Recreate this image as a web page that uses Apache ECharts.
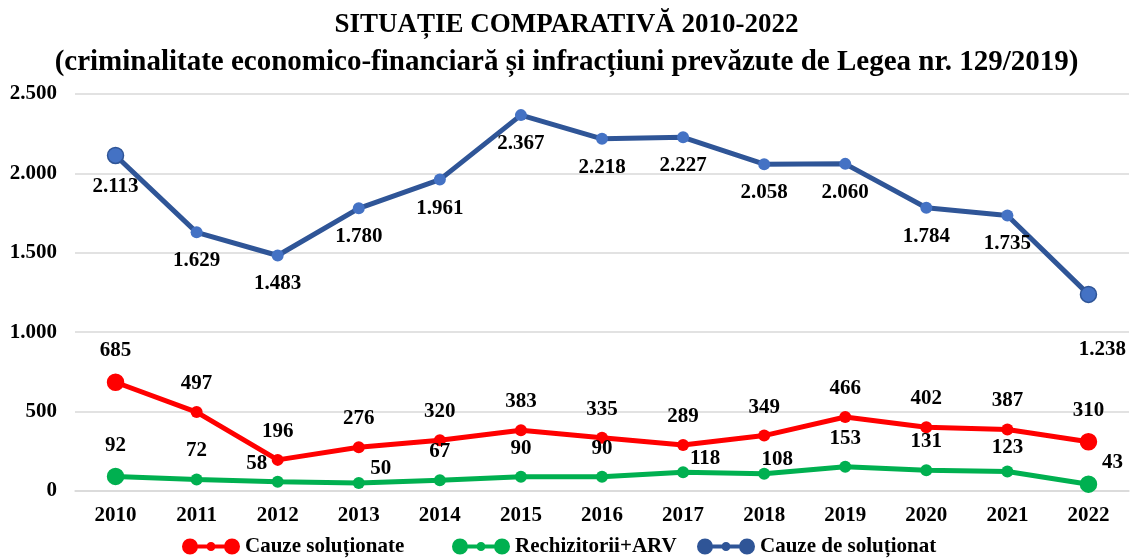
<!DOCTYPE html>
<html>
<head>
<meta charset="utf-8">
<script src="https://cdn.jsdelivr.net/npm/echarts@6/dist/echarts.min.js"></script>
<style>
  html, body { margin: 0; padding: 0; background: #fff; }
  #chart { width: 1133px; height: 558px; }
</style>
</head>
<body>
<div id="chart"></div>
<script>
// date
var years = ['2010', '2011', '2012', '2013', '2014', '2015', '2016', '2017', '2018', '2019', '2020', '2021', '2022'];
var cauzeSolutionate = [685, 497, 196, 276, 320, 383, 335, 289, 349, 466, 402, 387, 310];
var rechizitorii = [92, 72, 58, 50, 67, 90, 90, 118, 108, 153, 131, 123, 43];
var cauzeDeSolutionat = [2113, 1629, 1483, 1780, 1961, 2367, 2218, 2227, 2058, 2060, 1784, 1735, 1238];
var yTicks = [0, 500, 1000, 1500, 2000, 2500];

var FONT = '"Liberation Serif", "DejaVu Serif", serif';

function fmt(v) {
  return String(v).replace(/\B(?=(\d{3})+(?!\d))/g, '.');
}

// icon legenda: linie cu cercuri la capete si unul mic la mijloc
var legendIcon = 'path://M0,8a8,8 0 1,1 16,0a8,8 0 1,1 -16,0Z' +
  'M42,8a8,8 0 1,1 16,0a8,8 0 1,1 -16,0Z' +
  'M24.5,8a4.5,4.5 0 1,1 9,0a4.5,4.5 0 1,1 -9,0Z' +
  'M8,6H50V10H8Z';

// deplasari individuale ale etichetelor (ca in original)
var greenOffsets = { 2: [-21, 10], 3: [22, 14], 7: [22, 15], 8: [13, 14], 11: [0, 5], 12: [24, 10] };
var blueOffsets = { 12: [14, 24] };

function buildData(values, color, borderColor, offsets) {
  return values.map(function (v, i) {
    var end = i === 0 || i === values.length - 1;
    var item = {
      value: v,
      symbolSize: end ? 16 : 12,
      itemStyle: { color: color, borderColor: end ? borderColor : color, borderWidth: end ? 1.5 : 0 }
    };
    if (offsets && offsets[i]) {
      item.label = { offset: offsets[i] };
    }
    return item;
  });
}

var labelStyle = {
  show: true,
  fontFamily: FONT,
  fontSize: 21,
  fontWeight: 'bold',
  color: '#000',
  distance: 12,
  formatter: function (p) { return fmt(p.value); }
};

var legendText = {
  fontFamily: FONT,
  fontSize: 21,
  fontWeight: 'bold',
  color: '#000'
};

function makeLegend(name, left) {
  return {
    left: left,
    bottom: 1,
    padding: 0,
    itemWidth: 58,
    itemHeight: 16,
    icon: legendIcon,
    textStyle: legendText,
    data: [name]
  };
}

var chart = echarts.init(document.getElementById('chart'));

var option = {
  animation: false,
  title: {
    text: 'SITUAȚIE COMPARATIVĂ 2010-2022',
    subtext: '(criminalitate economico-financiară și infracțiuni prevăzute de Legea nr. 129/2019)',
    left: 'center',
    top: 7,
    itemGap: 9,
    textStyle: {
      fontFamily: FONT,
      fontSize: 27,
      fontWeight: 'bold',
      color: '#000'
    },
    subtextStyle: {
      fontFamily: FONT,
      fontSize: 29,
      fontWeight: 'bold',
      color: '#000'
    }
  },
  legend: [
    makeLegend('Cauze soluționate', 182),
    makeLegend('Rechizitorii+ARV', 452),
    makeLegend('Cauze de soluționat', 697)
  ],
  grid: {
    left: 75,
    right: 4,
    top: 94,
    bottom: 67,
    containLabel: false
  },
  xAxis: {
    type: 'category',
    data: years,
    boundaryGap: true,
    axisLine: { show: true, lineStyle: { color: '#d9d9d9', width: 1.5 } },
    axisTick: { show: false },
    axisLabel: {
      margin: 14,
      fontFamily: FONT,
      fontSize: 21,
      fontWeight: 'bold',
      color: '#000'
    }
  },
  yAxis: {
    type: 'value',
    min: yTicks[0],
    max: yTicks[yTicks.length - 1],
    interval: 500,
    axisLine: { show: false },
    axisTick: { show: false },
    splitLine: { show: true, lineStyle: { color: '#d9d9d9', width: 1.5 } },
    axisLabel: {
      margin: 18,
      fontFamily: FONT,
      fontSize: 21,
      fontWeight: 'bold',
      color: '#000',
      formatter: function (v) { return fmt(v); }
    }
  },
  series: [
    {
      name: 'Cauze de soluționat',
      type: 'line',
      symbol: 'circle',
      color: '#2F5597',
      lineStyle: { color: '#2F5597', width: 5 },
      label: Object.assign({}, labelStyle, { position: 'bottom' }),
      data: buildData(cauzeDeSolutionat, '#4472C4', '#2F5597', blueOffsets),
      z: 3
    },
    {
      name: 'Cauze soluționate',
      type: 'line',
      symbol: 'circle',
      color: '#FF0000',
      lineStyle: { color: '#FF0000', width: 5 },
      label: Object.assign({}, labelStyle, { position: 'top' }),
      data: buildData(cauzeSolutionate, '#FF0000', '#FF0000', null),
      z: 4
    },
    {
      name: 'Rechizitorii+ARV',
      type: 'line',
      symbol: 'circle',
      color: '#00B050',
      lineStyle: { color: '#00B050', width: 5 },
      label: Object.assign({}, labelStyle, { position: 'top' }),
      data: buildData(rechizitorii, '#00B050', '#00B050', greenOffsets),
      z: 5
    }
  ]
};

chart.setOption(option);
</script>
</body>
</html>
